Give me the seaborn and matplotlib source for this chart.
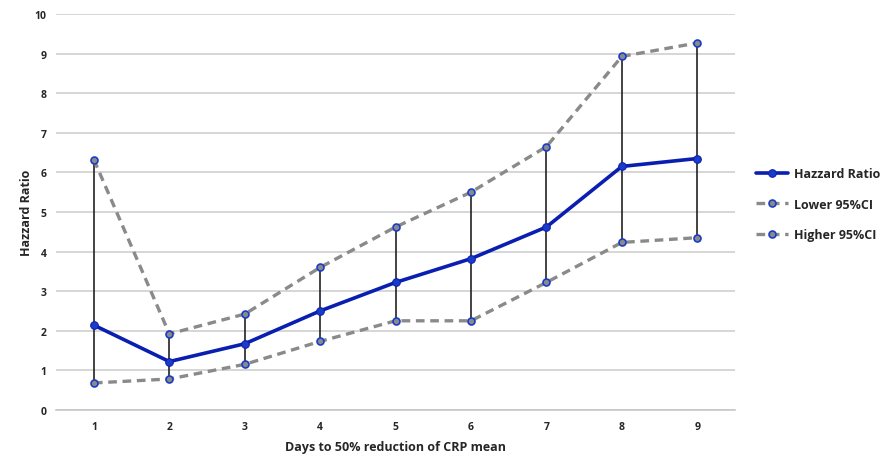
import matplotlib
matplotlib.use("Agg")
import matplotlib.pyplot as plt
import seaborn as sns
import pandas as pd
import numpy as np

days = [1, 2, 3, 4, 5, 6, 7, 8, 9]
hazard = [2.14, 1.22, 1.67, 2.50, 3.22, 3.82, 4.62, 6.15, 6.35]
ci_upper = [6.32, 1.92, 2.42, 3.60, 4.62, 5.50, 6.65, 8.93, 9.27]   # legend: "Lower 95%CI"
ci_lower = [0.68, 0.78, 1.15, 1.73, 2.25, 2.25, 3.22, 4.23, 4.35]   # legend: "Higher 95%CI"
series_names = ["Hazzard Ratio", "Lower 95%CI", "Higher 95%CI"]
y_ticks = list(range(0, 11))

sns.set_theme(style="white")
plt.rcParams['font.family'] = ['Open Sans', 'DejaVu Sans']
plt.rcParams['font.weight'] = 'bold'

df = pd.DataFrame({"day": days * 3,
                   "value": hazard + ci_upper + ci_lower,
                   "series": [series_names[0]] * 9 + [series_names[1]] * 9 + [series_names[2]] * 9})

fig = plt.figure(figsize=(8.92, 4.56), dpi=100)
ax = fig.add_axes([0.063, 0.099, 0.761, 0.868])

# error bars (drawn beneath)
ax.vlines(days, ci_lower, ci_upper, color="#222222", lw=1.2, zorder=2)

dash = (0, (2.6, 1.7))
sns.lineplot(data=df[df.series == series_names[1]], x="day", y="value", ax=ax,
             color="#8a8a8a", lw=2.4, linestyle=dash, marker="o", markersize=5,
             markerfacecolor="#8a8a8a", markeredgecolor="#1a3cc8", markeredgewidth=1.2,
             label=series_names[1], zorder=3)
sns.lineplot(data=df[df.series == series_names[2]], x="day", y="value", ax=ax,
             color="#8a8a8a", lw=2.4, linestyle=dash, marker="o", markersize=5,
             markerfacecolor="#8a8a8a", markeredgecolor="#1a3cc8", markeredgewidth=1.2,
             label=series_names[2], zorder=3)
sns.lineplot(data=df[df.series == series_names[0]], x="day", y="value", ax=ax,
             color="#0a1fb0", lw=2.6, marker="o", markersize=5.5,
             markerfacecolor="#1a3cc8", markeredgecolor="#0a1fb0",
             label=series_names[0], zorder=4)

ax.set_xlim(0.5, 9.5)
ax.set_ylim(0, 10)
ax.set_yticks(y_ticks)
ax.set_yticklabels([str(t) for t in y_ticks], fontsize=7.5, fontweight="bold")
ax.set_xticks(days)
ax.set_xticklabels([str(d) for d in days], fontsize=7.5, fontweight="bold")
ax.set_xticks(np.arange(0.5, 10.0, 1.0), minor=True)
ax.tick_params(axis="x", which="major", length=0, pad=8)
ax.tick_params(axis="x", which="minor", length=4, color="#c8c8c8", width=1, direction="out")
ax.tick_params(axis="y", length=0, pad=7)
ax.grid(axis="y", color="#d0d0d0", lw=1.2)
ax.set_axisbelow(True)
for s in ["top", "right", "left"]:
    ax.spines[s].set_visible(False)
ax.spines["bottom"].set_color("#c8c8c8")
ax.spines["bottom"].set_linewidth(1.2)

ax.set_xlabel("Days to 50% reduction of CRP mean", fontsize=9, fontweight="bold", labelpad=6)
ax.set_ylabel("Hazzard Ratio", fontsize=9, fontweight="bold", labelpad=1)

handles, labels = ax.get_legend_handles_labels()
order = [labels.index(n) for n in series_names]
ax.legend([handles[i] for i in order], [labels[i] for i in order],
          loc="center left", bbox_to_anchor=(1.015, 0.52), frameon=False,
          handlelength=2.5, labelspacing=1.4, handletextpad=0.5,
          prop={"weight": "bold", "size": 9})

fig.savefig("out.png", dpi=100)
